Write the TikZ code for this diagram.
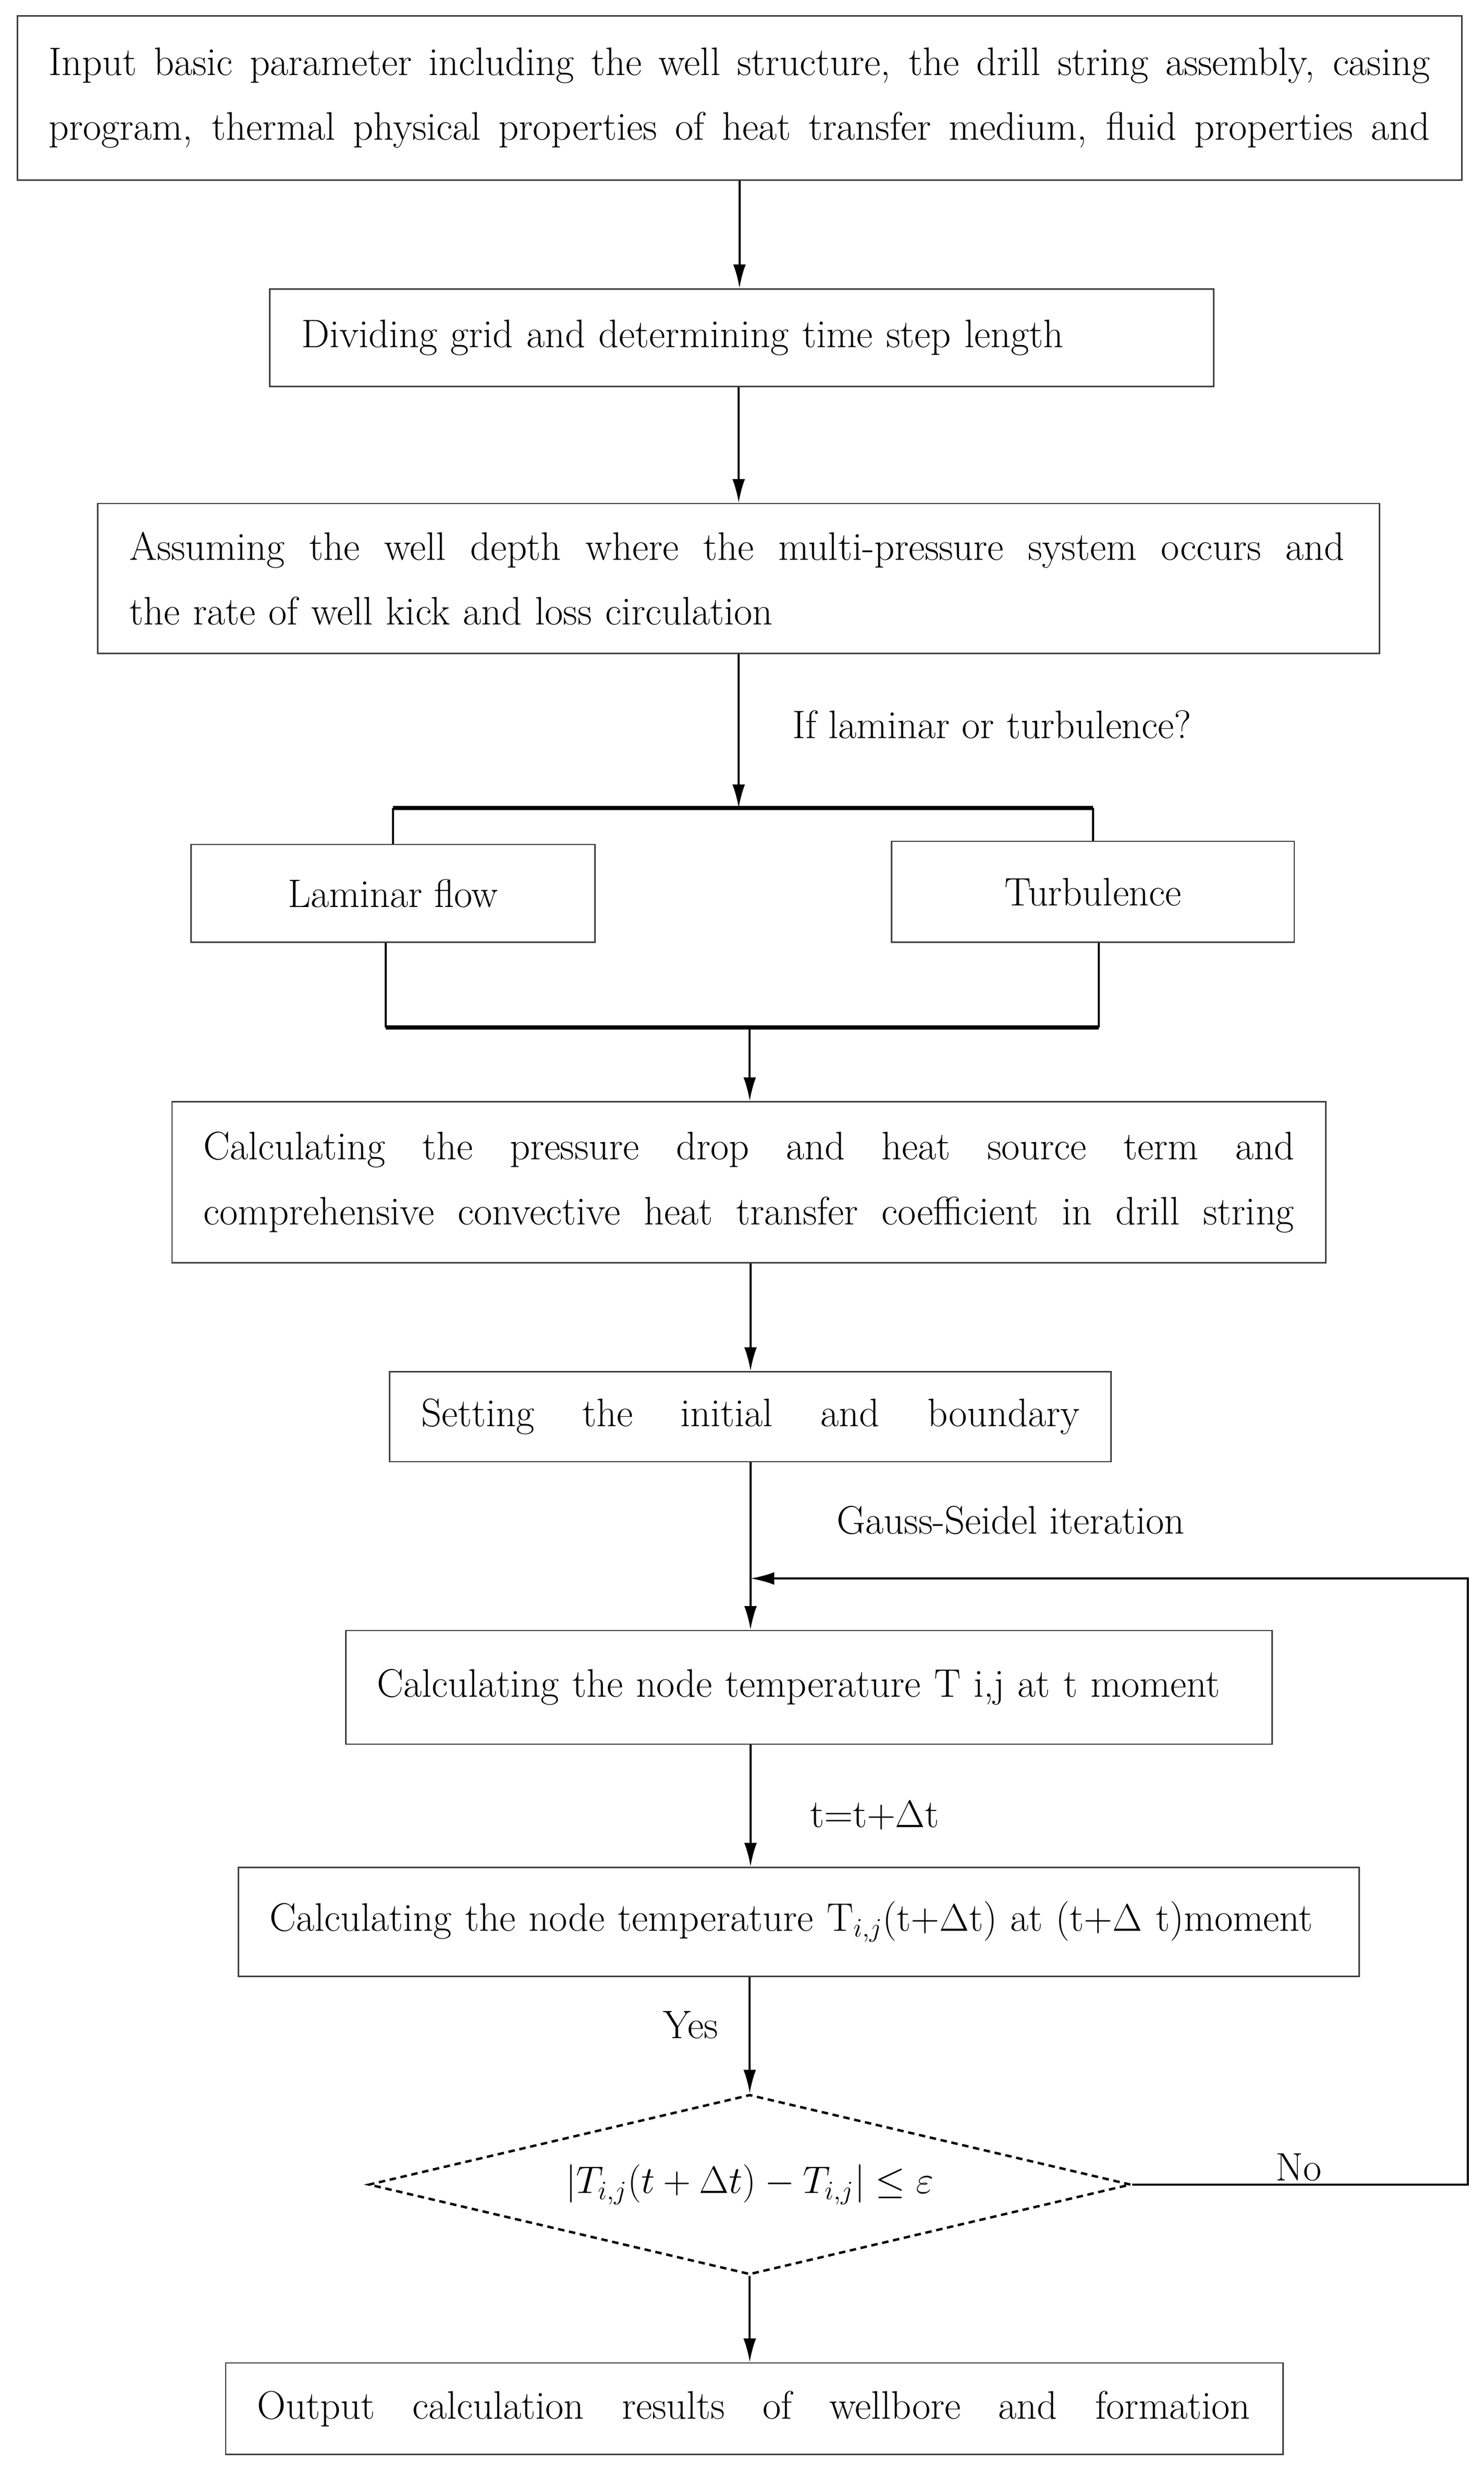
\documentclass[tikz,border=0pt]{standalone}
\usepackage{amsmath}
\usetikzlibrary{arrows.meta,shapes.geometric}

\newcommand{\fillline}[2]{\hbox to #1{\spaceskip=0.3em plus 10em\relax #2}}

\begin{document}
\begin{tikzpicture}[
  x=0.03cm, y=-0.03cm,
  font=\fontsize{21.5}{35}\selectfont,
  box/.style={draw=black!75, line width=0.8pt, align=left, inner xsep=0.6cm},
  flowbox/.style={draw=black!75, line width=0.8pt, align=center},
  arr/.style={line width=1.1pt, -{Latex[length=0.45cm,width=0.24cm]}},
  link/.style={line width=1.1pt},
  bar/.style={line width=2.2pt},
  lbl/.style={anchor=west, inner sep=0pt}
]
  \useasboundingbox (0,0) rectangle (940,1568);

  \node[box, text width=26.25cm, minimum height=3.12cm] (input) at (468.5,62)
    {\fillline{26.25cm}{Input basic parameter including the well structure, the drill string assembly, casing}\\
     \fillline{26.25cm}{program, thermal physical properties of heat transfer medium, fluid properties and}};
  \node[box, text width=16.74cm, minimum height=1.86cm] (grid) at (470,214)
    {Dividing grid and determining time step length};
  \node[box, text width=23.16cm, minimum height=2.85cm] (assume) at (468,366.5)
    {\fillline{23.1cm}{Assuming the well depth where the multi-pressure system occurs and}\\
     the rate of well kick and loss circulation};
  \node[flowbox, minimum width=7.68cm, minimum height=1.86cm] (laminar) at (249,566) {Laminar flow};
  \node[flowbox, minimum width=7.65cm, minimum height=1.92cm] (turb) at (692.5,565) {Turbulence};
  \node[box, text width=20.73cm, minimum height=3.06cm] (calc) at (474.5,749)
    {\fillline{20.73cm}{Calculating the pressure drop and heat source term and}\\
     \fillline{20.73cm}{comprehensive convective heat transfer coefficient in drill string}};
  \node[box, text width=12.51cm, minimum height=1.71cm] (setting) at (475.5,897.5)
    {\fillline{12.51cm}{Setting the initial and boundary}};
  \node[box, text width=16.41cm, minimum height=2.16cm] (nodeT) at (512.5,1069)
    {Calculating the node temperature T i,j at t moment};
  \node[box, text width=20.1cm, minimum height=2.07cm] (nodeTnext) at (506,1217.5)
    {Calculating the node temperature T$_{i,j}$(t+$\Delta$t) at (t+$\Delta$ t)moment};
  \node[draw, diamond, aspect=4.24, dash pattern=on 3.5pt off 2.5pt, line width=1.3pt, inner sep=0pt,
        minimum width=14.49cm, minimum height=3.42cm] (check) at (475,1384)
    {$\left|T_{i,j}(t+\Delta t)-T_{i,j}\right|\le\varepsilon$};
  \node[box, text width=18.9cm, minimum height=1.74cm] (output) at (478,1526)
    {\fillline{18.87cm}{Output calculation results of wellbore and formation}};

  \coordinate (split) at (468,512);
  \coordinate (merge) at (475,651);
  \coordinate (back) at (930,1000);

  % main line
  \draw[arr] (input.south) -- (input.south |- grid.north);
  \draw[arr] (grid.south -| assume.north) -- (assume.north);
  \draw[arr] (assume.south) -- (split);
  \draw[bar] (laminar.north |- split) -- (turb.north |- split);
  \draw[link] (laminar.north |- split) -- (laminar.north);
  \draw[link] (turb.north |- split) -- (turb.north);
  \draw[link] ([xshift=-4]laminar.south) -- ([xshift=-4]laminar.south |- merge);
  \draw[link] ([xshift=3]turb.south) -- ([xshift=3]turb.south |- merge);
  \draw[bar] ([xshift=-4]laminar.south |- merge) -- ([xshift=3]turb.south |- merge);
  \draw[arr] (merge) -- (merge |- calc.north);
  \draw[arr] (calc.south -| setting.north) -- (setting.north);
  \draw[arr] (setting.south) -- (setting.south |- nodeT.north);
  \draw[arr] (nodeT.south -| setting.south) -- (setting.south |- nodeTnext.north);
  \draw[arr] (nodeTnext.south -| check.north) -- (check.north);
  \draw[arr] (check.south) -- (check.south |- output.north);

  % loop back
  \draw[arr] (check.east) -| (back) -- (back -| setting.south);

  \node[lbl] (qflow) at (502,459) {If laminar or turbulence?};
  \node[lbl] (gauss) at (530,963) {Gauss-Seidel iteration};
  \node[lbl] (tstep) at (513,1150) {t=t+$\Delta$t};
  \node[lbl] (yes) at (420,1283) {Yes};
  \node[lbl] (no) at (808,1373) {No};
\end{tikzpicture}
\end{document}
